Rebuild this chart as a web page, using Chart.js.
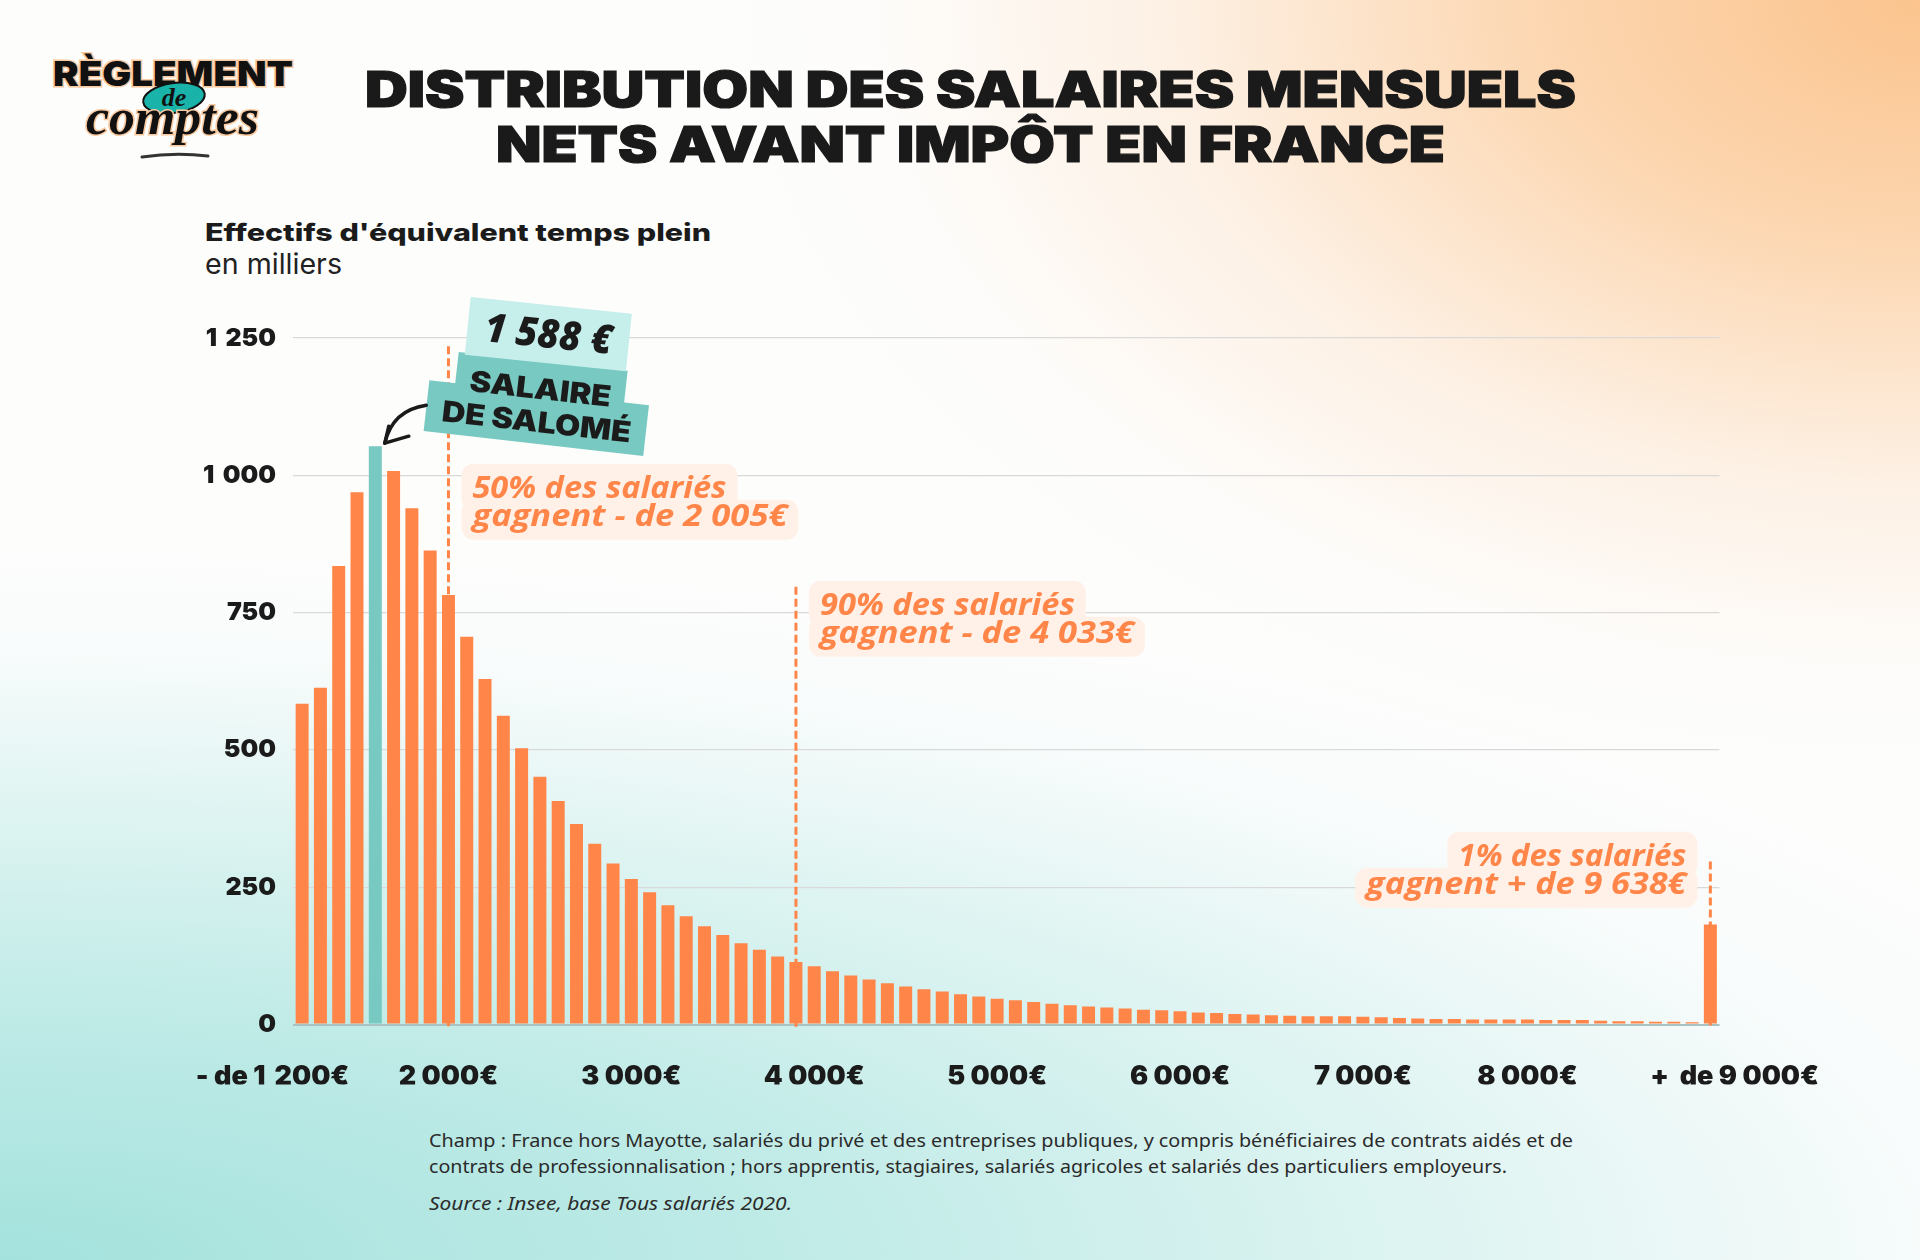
<!DOCTYPE html>
<html lang="fr">
<head>
<meta charset="utf-8">
<title>Distribution des salaires mensuels nets avant impôt en France</title>
<script src="https://cdn.jsdelivr.net/npm/chart.js@4.4.1/dist/chart.umd.min.js"></script>
<style>
  html, body { margin: 0; padding: 0; }
  body {
    width: 1920px; height: 1260px; overflow: hidden; position: relative;
    background:
      radial-gradient(1250px 800px at 100% 0%, rgba(251,196,142,1) 0%, rgba(252,210,168,0.9) 30%, rgba(253,232,212,0.6) 60%, rgba(255,250,245,0.25) 84%, rgba(255,255,255,0) 100%),
      radial-gradient(2300px 720px at 0% 100%, rgba(164,226,221,1) 0%, rgba(192,235,231,1) 35%, rgba(222,244,242,0.9) 65%, rgba(245,251,251,0.6) 85%, rgba(255,255,255,0) 100%),
      #fdfdfc;
    font-family: Inter, "Noto Sans", sans-serif;
  }
  #wrap { position: absolute; left: 0; top: 0; width: 1920px; height: 1260px; }
  #overlay { position: absolute; left: 0; top: 0; pointer-events: none; }
</style>
</head>
<body>
<svg id="overlay" width="1920" height="1260" viewBox="0 0 1920 1260">
  <!-- logo -->
  <text x="53" y="86" textLength="240" lengthAdjust="spacingAndGlyphs" font-family="Inter" font-weight="900" font-size="34" fill="#111" stroke="#f9c9a0" stroke-width="3" paint-order="stroke">RÈGLEMENT</text>
  <ellipse cx="174" cy="98" rx="31" ry="15" transform="rotate(-8 174 98)" fill="#19b3aa" stroke="#111" stroke-width="2"/>
  <text x="174" y="106" text-anchor="middle" font-family="Liberation Serif" font-style="italic" font-weight="700" font-size="26" fill="#111">de</text>
  <text x="86" y="134" textLength="173" lengthAdjust="spacingAndGlyphs" font-family="Liberation Serif" font-style="italic" font-weight="700" font-size="50" fill="#111" stroke="#f9c9a0" stroke-width="3" paint-order="stroke">comptes</text>
  <path d="M142 157 Q175 152 208 156" stroke="#333" stroke-width="3" fill="none" stroke-linecap="round"/>

  <!-- title -->
  <g font-family="Inter" font-weight="900" font-size="49" fill="#1a1a1a" stroke="#1a1a1a" stroke-width="1.2">
    <text x="365" y="107" textLength="1211" lengthAdjust="spacingAndGlyphs">DISTRIBUTION DES SALAIRES MENSUELS</text>
    <text x="496" y="162" textLength="949" lengthAdjust="spacingAndGlyphs">NETS AVANT IMPÔT EN FRANCE</text>
  </g>

  <!-- axis title -->
  <text x="205" y="241" textLength="506" lengthAdjust="spacingAndGlyphs" font-family="Inter" font-weight="800" font-size="24" fill="#1b1b1b">Effectifs d'équivalent temps plein</text>
  <text x="205" y="274" textLength="137" lengthAdjust="spacingAndGlyphs" font-family="Inter" font-weight="400" font-size="28" fill="#222">en milliers</text>

  <!-- footer -->
  <text x="429" y="1147" textLength="1144" lengthAdjust="spacingAndGlyphs" font-family="Noto Sans" font-size="18" fill="#2b2b2b">Champ : France hors Mayotte, salariés du privé et des entreprises publiques, y compris bénéficiaires de contrats aidés et de</text>
  <text x="429" y="1173" textLength="1078" lengthAdjust="spacingAndGlyphs" font-family="Noto Sans" font-size="18" fill="#2b2b2b">contrats de professionnalisation ; hors apprentis, stagiaires, salariés agricoles et salariés des particuliers employeurs.</text>
  <text x="429" y="1210" textLength="363" lengthAdjust="spacingAndGlyphs" font-family="Noto Sans" font-style="italic" font-size="18" fill="#2b2b2b">Source : Insee, base Tous salariés 2020.</text>
</svg>
<div id="wrap"><canvas id="chart"></canvas></div>

<script>
// Tranches de salaire mensuel net (pas de 100 €)
const categories = [
  '- de 1 200', '1 200', '1 300', '1 400', '1 500', '1 600', '1 700', '1 800', '1 900', '2 000',
  '2 100', '2 200', '2 300', '2 400', '2 500', '2 600', '2 700', '2 800', '2 900', '3 000',
  '3 100', '3 200', '3 300', '3 400', '3 500', '3 600', '3 700', '3 800', '3 900', '4 000',
  '4 100', '4 200', '4 300', '4 400', '4 500', '4 600', '4 700', '4 800', '4 900', '5 000',
  '5 100', '5 200', '5 300', '5 400', '5 500', '5 600', '5 700', '5 800', '5 900', '6 000',
  '6 100', '6 200', '6 300', '6 400', '6 500', '6 600', '6 700', '6 800', '6 900', '7 000',
  '7 100', '7 200', '7 300', '7 400', '7 500', '7 600', '7 700', '7 800', '7 900', '8 000',
  '8 100', '8 200', '8 300', '8 400', '8 500', '8 600', '8 700', '+ de 9 000'
];

// Effectifs d'équivalent temps plein, en milliers
const effectifs = [
  584, 613, 835, 969, 1053, 1008, 940, 863, 782, 706,
  629, 562, 503, 451, 407, 365, 329, 293, 265, 241,
  217, 197, 179, 163, 148, 136, 124, 114, 106, 97,
  89, 82, 75, 69, 64, 60, 55, 51, 47, 44,
  41, 38, 35, 33, 31, 29, 27, 26, 24, 22,
  21, 19, 18, 17, 16, 15, 15, 15, 14, 13,
  12, 11, 10, 10, 9, 9, 9, 9, 8, 8,
  8, 7, 6, 6, 5, 5, 4, 182
];

const salomeIndex = 4;
const salomeSalary = '1 588 €';

const tickIndex = [0, 8, 18, 28, 38, 48, 58, 67, 77];
const tickLabels = ['- de 1 \u2009200€', '2 000€', '3 000€', '4 000€', '5 000€', '6 000€', '7 000€', '8 000€', '+  de 9 000€'];
const yTickLabels = ['0', '250', '500', '750', '1 \u2009000', '1 \u2009250'];

const quantileIndex = [8, 27, 77];
const quantileLine1 = ['50% des salariés', '90% des salariés', '1% des salariés'];
const quantileLine2 = ['gagnent - de 2 005€', 'gagnent - de 4 033€', 'gagnent + de 9 638€'];

const ORANGE = '#ff8548';
const TEAL = '#77c9c2';
const INK = '#1b1b1b';

// placement of the callouts (y in thousands, widths in px)
const calloutLayout = [
  { top: 1235, base: 959, side: 'right', w1: 254, w2: 315 },
  { top: 797, base: 746, side: 'right', w1: 255, w2: 314 },
  { top: 297, base: 289, side: 'left', w1: 228, w2: 320 }
];

function fitText(ctx, str, x, yb, w) {
  const nat = ctx.measureText(str).width;
  ctx.save();
  ctx.translate(x, yb);
  ctx.scale(w / nat, 1);
  ctx.textAlign = 'left';
  ctx.fillText(str, 0, 0);
  ctx.restore();
}

function rotatedBox(ctx, cx, cy, w, h, deg, fill) {
  ctx.save();
  ctx.translate(cx, cy);
  ctx.rotate(deg * Math.PI / 180);
  ctx.fillStyle = fill;
  ctx.fillRect(-w / 2, -h / 2, w, h);
  ctx.restore();
}

function rotatedText(ctx, str, cx, cy, deg, w, font) {
  ctx.save();
  ctx.translate(cx, cy);
  ctx.rotate(deg * Math.PI / 180);
  ctx.font = font;
  ctx.fillStyle = INK;
  ctx.textBaseline = 'middle';
  fitText(ctx, str, -w / 2, 0, w);
  ctx.restore();
}

const annotationPlugin = {
  id: 'annotations',
  afterDatasetsDraw(chart) {
    const { ctx, scales: { x, y } } = chart;
    const y0 = y.getPixelForValue(0);

    // dashed quantile lines
    ctx.save();
    ctx.strokeStyle = ORANGE;
    ctx.lineWidth = 3;
    ctx.setLineDash([8, 4]);
    quantileIndex.forEach((idx, i) => {
      const px = x.getPixelForValue(idx);
      ctx.beginPath();
      ctx.moveTo(px, y.getPixelForValue(calloutLayout[i].top));
      ctx.lineTo(px, y0 + 3);
      ctx.stroke();
    });
    ctx.restore();

    // callouts
    ctx.save();
    ctx.font = 'italic 700 30px "Open Sans"';
    quantileIndex.forEach((idx, i) => {
      const L = calloutLayout[i];
      const px = x.getPixelForValue(idx);
      const b1 = y.getPixelForValue(L.base);
      const b2 = b1 + 28;
      let l1, l2;
      if (L.side === 'right') {
        l1 = px + 24; l2 = px + 24;
      } else {
        l1 = px - 24 - L.w1; l2 = px - 24 - L.w2;
      }
      ctx.fillStyle = '#fff1e8';
      ctx.beginPath();
      ctx.roundRect(l1 - 11, b1 - 34, L.w1 + 22, 46, 12);
      ctx.fill();
      ctx.beginPath();
      ctx.roundRect(l2 - 11, b1 + 2, L.w2 + 22, b2 + 14 - (b1 + 2), 12);
      ctx.fill();
      ctx.fillStyle = ORANGE;
      ctx.textBaseline = 'alphabetic';
      fitText(ctx, quantileLine1[i], l1, b1, L.w1);
      fitText(ctx, quantileLine2[i], l2, b2, L.w2);
    });
    ctx.restore();

    // Salomé label + arrow
    const bx = x.getPixelForValue(salomeIndex);
    const by = y.getPixelForValue(effectifs[salomeIndex]);
    ctx.save();
    rotatedBox(ctx, bx + 165, by - 59, 170, 52, 6.4, TEAL);
    rotatedBox(ctx, bx + 161, by - 28, 221, 51, 6.5, TEAL);
    rotatedBox(ctx, bx + 173, by - 112, 162, 58, 5.9, '#c6eeeb');
    rotatedText(ctx, salomeSalary, bx + 173, by - 110, 5.9, 128, 'italic 800 40px "Open Sans"');
    rotatedText(ctx, 'SALAIRE', bx + 165, by - 56, 6.4, 142, '900 29px Inter');
    rotatedText(ctx, 'DE SALOMÉ', bx + 161, by - 23, 6.5, 190, '900 29px Inter');

    ctx.strokeStyle = '#1a1a1a';
    ctx.lineWidth = 3.5;
    ctx.lineCap = 'round';
    ctx.lineJoin = 'round';
    const tx = bx + 9.5, ty = by - 3;
    ctx.beginPath();
    ctx.moveTo(bx + 51, by - 41);
    ctx.quadraticCurveTo(bx + 17, by - 36, tx, ty);
    ctx.stroke();
    ctx.beginPath();
    ctx.moveTo(tx + 4, ty - 17);
    ctx.lineTo(tx, ty);
    ctx.lineTo(tx + 24, ty - 7);
    ctx.stroke();
    ctx.restore();
  }
};

new Chart(document.getElementById('chart'), {
  type: 'bar',
  data: {
    labels: categories,
    datasets: [{
      data: effectifs,
      backgroundColor: categories.map((c, i) => i === salomeIndex ? TEAL : ORANGE),
      categoryPercentage: 1,
      barPercentage: 0.71,
      borderWidth: 0
    }]
  },
  options: {
    responsive: true,
    maintainAspectRatio: false,
    animation: false,
    layout: { padding: { top: 338, right: 200.5, bottom: 175.5, left: 0 } },
    plugins: { legend: { display: false }, tooltip: { enabled: false } },
    scales: {
      x: {
        grid: { display: false, drawTicks: false },
        border: { display: false },
        ticks: {
          autoSkip: false, maxRotation: 0, minRotation: 0, padding: 36, color: INK,
          font: { family: 'Inter', weight: '900', size: 27 },
          callback: (v, i) => {
            const k = tickIndex.indexOf(i);
            if (k < 0) return '';
            if (k === 0) return tickLabels[k] + '           ';
            if (k === tickIndex.length - 1) return '         ' + tickLabels[k];
            return tickLabels[k];
          }
        },
        afterFit: a => { a.height = 60; }
      },
      y: {
        min: 0, max: 1250,
        grid: {
          drawTicks: false,
          color: c => c.tick.value === 0 ? '#a9c3c2' : '#d9d9d9',
          lineWidth: c => c.tick.value === 0 ? 2 : 1.3
        },
        border: { display: false },
        ticks: {
          stepSize: 250, padding: 17, color: INK,
          font: { family: 'Inter', weight: '900', size: 25 },
          callback: (v, i) => yTickLabels[i]
        },
        afterFit: a => { a.width = 293; }
      }
    }
  },
  plugins: [annotationPlugin]
});
</script>
</body>
</html>
